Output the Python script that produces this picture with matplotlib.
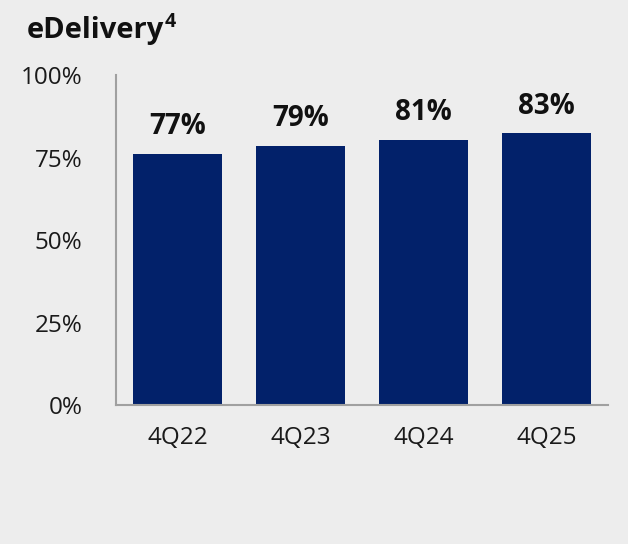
import matplotlib
matplotlib.use("Agg")
import matplotlib.pyplot as plt

categories = ["4Q22", "4Q23", "4Q24", "4Q25"]
values = [76.2, 78.6, 80.4, 82.4]
value_labels = ["77%", "79%", "81%", "83%"]
yticks = [0, 25, 50, 75, 100]
ytick_labels = ["0%", "25%", "50%", "75%", "100%"]

plt.rcParams['font.family'] = ['Open Sans', 'DejaVu Sans']
bg = "#ededed"
fig = plt.figure(figsize=(6.28, 5.44), dpi=100, facecolor=bg)
ax = fig.add_axes([116/628, 139/544, 492/628, 330/544], facecolor=bg)

x = range(len(categories))
bars = ax.bar(x, values, width=0.72, color="#02216a", zorder=2)
ax.set_xlim(-0.5, len(categories) - 0.5)
ax.set_ylim(0, 100)
ax.set_xticks(list(x))
ax.set_xticklabels(categories, fontsize=17.5, color="#1a1a1a")
ax.set_yticks(yticks)
ax.set_yticklabels(ytick_labels, fontsize=17.5, color="#1a1a1a")
ax.tick_params(axis='both', length=0)
ax.tick_params(axis='x', pad=15)
ax.tick_params(axis='y', pad=24)
for s in ["top", "right"]:
    ax.spines[s].set_visible(False)
for s in ["left", "bottom"]:
    ax.spines[s].set_color("#a0a0a0")
    ax.spines[s].set_linewidth(1.5)

for b, lab in zip(bars, value_labels):
    ax.annotate(lab, (b.get_x() + b.get_width()/2, b.get_height()),
                xytext=(0, 9), textcoords="offset points",
                ha="center", va="bottom", fontsize=20, fontweight="bold",
                fontstretch="normal", color="#111111")

t = fig.text(27/628, 1 - 38/544, "eDelivery", fontsize=21, fontweight="bold",
             fontstretch="normal", color="#111111", ha="left", va="baseline")
fig.canvas.draw()
bb = t.get_window_extent()
fig.text((bb.x1 + 0.5) / 628, 1 - 27/544, "4", fontsize=14, fontweight="bold",
         fontstretch="normal", color="#111111", ha="left", va="baseline")

fig.savefig("out.png", dpi=100, facecolor=bg)
